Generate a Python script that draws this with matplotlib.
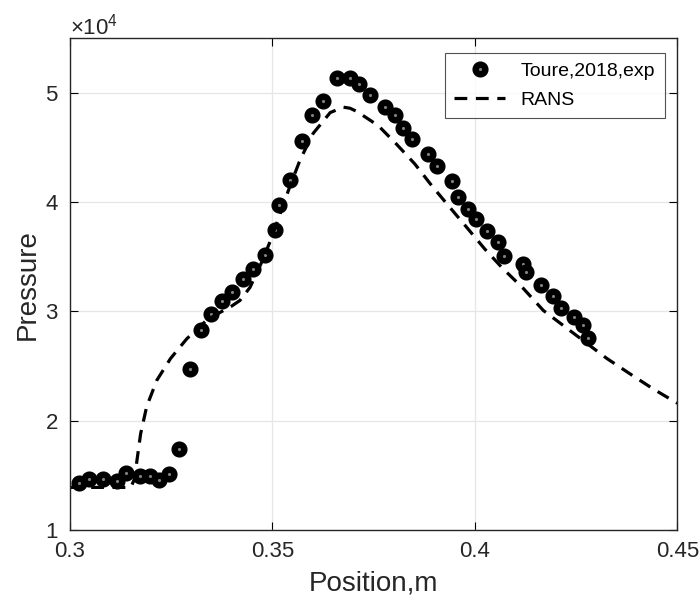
import matplotlib
matplotlib.use("Agg")
import matplotlib.pyplot as plt

plt.rcParams["font.family"] = ["Liberation Sans", "DejaVu Sans"]
plt.rcParams["mathtext.fontset"] = "custom"
plt.rcParams["mathtext.rm"] = "Liberation Sans"

# experiment (Toure, 2018)
exp_x = [0.3023, 0.3048, 0.3082, 0.3116, 0.3138, 0.3174, 0.3197, 0.3221, 0.3246, 0.3271,
         0.3297, 0.3325, 0.3350, 0.3375, 0.3401, 0.3428, 0.3453, 0.3482, 0.3507, 0.3517,
         0.3544, 0.3574, 0.3599, 0.3626, 0.3659, 0.3692, 0.3714, 0.3741, 0.3778, 0.3803,
         0.3823, 0.3844, 0.3885, 0.3907, 0.3943, 0.3959, 0.3984, 0.4003, 0.4031, 0.4057,
         0.4073, 0.4118, 0.4126, 0.4163, 0.4192, 0.4214, 0.4245, 0.4266, 0.4279]
exp_p = [1.43, 1.47, 1.47, 1.45, 1.52, 1.49, 1.49, 1.46, 1.51, 1.74,
         2.47, 2.83, 2.98, 3.10, 3.18, 3.30, 3.39, 3.52, 3.75, 3.97,
         4.20, 4.56, 4.80, 4.93, 5.14, 5.14, 5.08, 4.98, 4.87, 4.80,
         4.68, 4.58, 4.44, 4.33, 4.19, 4.05, 3.94, 3.85, 3.74, 3.64,
         3.51, 3.43, 3.36, 3.24, 3.14, 3.03, 2.95, 2.88, 2.76]

# RANS
rans_x = [0.3000, 0.3151, 0.3159, 0.3165, 0.3175, 0.3190, 0.3215, 0.3249, 0.3289, 0.3341,
          0.3400, 0.3420, 0.3445, 0.3475, 0.3499, 0.3519, 0.3544, 0.3569, 0.3601, 0.3643,
          0.3675, 0.3692, 0.3709, 0.3762, 0.3807, 0.3852, 0.3894, 0.3939, 0.3980, 0.4025,
          0.4070, 0.4120, 0.4169, 0.4219, 0.4326, 0.4391, 0.4441, 0.4500]
rans_p = [1.39, 1.39, 1.46, 1.61, 1.88, 2.13, 2.37, 2.57, 2.75, 2.93,
          3.05, 3.10, 3.22, 3.46, 3.68, 3.89, 4.15, 4.39, 4.63, 4.82,
          4.87, 4.86, 4.83, 4.70, 4.53, 4.35, 4.15, 3.95, 3.77, 3.57,
          3.39, 3.21, 3.01, 2.87, 2.57, 2.41, 2.29, 2.16]

exp_p = [p * 1e4 for p in exp_p]
rans_p = [p * 1e4 for p in rans_p]

fig = plt.figure(figsize=(7, 6.06), dpi=100)
ax = fig.add_axes([0.0996, 0.1254, 0.868, 0.8114])

ax.plot(exp_x, exp_p, "o", ms=7, mew=4.6, mec="black", mfc="#808080",
        label="Toure,2018,exp")
ax.plot(rans_x, rans_p, color="black", lw=2.3, ls=(0, (4, 2.7)), label="RANS")

ax.set_xlim(0.3, 0.45)
ax.set_ylim(1e4, 5.5e4)
ax.set_xticks([0.3, 0.35, 0.4, 0.45])
ax.set_xticklabels(["0.3", "0.35", "0.4", "0.45"])
ax.set_yticks([1e4, 2e4, 3e4, 4e4, 5e4])
ax.ticklabel_format(axis="y", style="sci", scilimits=(4, 4), useMathText=True)
ax.yaxis.get_offset_text().set_fontsize(16)
ax.yaxis.get_offset_text().set_color("#262626")

ax.grid(True, color="#e6e6e6", lw=0.9)
ax.set_axisbelow(True)
ax.tick_params(direction="in", top=True, right=True, length=6, width=0.8,
               labelsize=16, labelcolor="#262626", pad=8)
for s in ax.spines.values():
    s.set_linewidth(1.0)
    s.set_color("#262626")

ax.set_xlabel("Position,m", fontsize=20, color="#262626", labelpad=6)
ax.set_ylabel("Pressure", fontsize=20, color="#262626", labelpad=3)

leg = ax.legend(loc="upper right", fontsize=14, frameon=True, fancybox=False,
                edgecolor="#262626", handlelength=2.6, borderpad=0.5,
                labelspacing=0.55, bbox_to_anchor=(0.995, 0.99))
leg.get_frame().set_linewidth(0.8)

fig.savefig("out.png", dpi=100)
